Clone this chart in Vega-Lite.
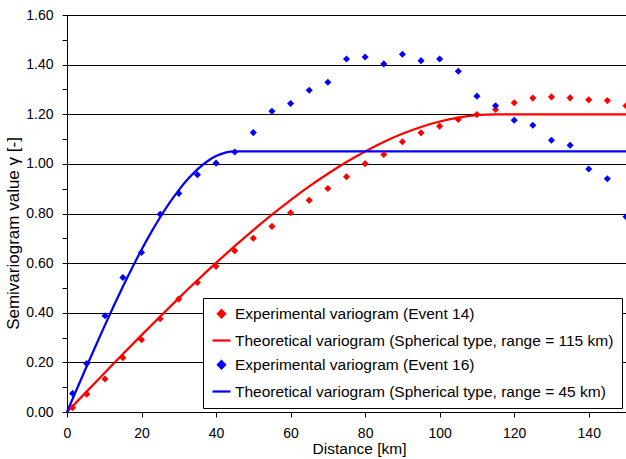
{
  "$schema": "https://vega.github.io/schema/vega-lite/v6.json",
  "width": 559,
  "height": 397,
  "autosize": {"type": "none"},
  "padding": {"left": 67, "top": 15, "right": 0, "bottom": 47},
  "background": "white",
  "config": {
    "view": {"stroke": null},
    "font": "Liberation Sans",
    "axis": {"domainColor": "black", "tickColor": "black", "labelColor": "black", "titleColor": "black", "titleFontWeight": "normal", "labelFont": "Liberation Sans", "titleFont": "Liberation Sans"},
    "legend": {
      "orient": "none", "legendX": 136, "legendY": 283, "title": null,
      "fillColor": "white", "strokeColor": "black", "padding": 8,
      "labelFont": "Liberation Sans", "labelFontSize": 15.5, "labelColor": "black",
      "labelLimit": 0, "symbolSize": 324, "rowPadding": 7, "labelOffset": 3,
      "symbolOpacity": 1, "symbolStrokeWidth": 2.25
    }
  },
  "datasets": {
    "exp": [
      {"series": "Experimental variogram (Event 14)", "d": 1.5, "g": 0.017},
      {"series": "Experimental variogram (Event 14)", "d": 5.3, "g": 0.072},
      {"series": "Experimental variogram (Event 14)", "d": 10.2, "g": 0.133},
      {"series": "Experimental variogram (Event 14)", "d": 15, "g": 0.219},
      {"series": "Experimental variogram (Event 14)", "d": 20, "g": 0.291},
      {"series": "Experimental variogram (Event 14)", "d": 25, "g": 0.376},
      {"series": "Experimental variogram (Event 14)", "d": 30, "g": 0.455},
      {"series": "Experimental variogram (Event 14)", "d": 35, "g": 0.522},
      {"series": "Experimental variogram (Event 14)", "d": 40, "g": 0.587},
      {"series": "Experimental variogram (Event 14)", "d": 45, "g": 0.650},
      {"series": "Experimental variogram (Event 14)", "d": 50, "g": 0.700},
      {"series": "Experimental variogram (Event 14)", "d": 55, "g": 0.748},
      {"series": "Experimental variogram (Event 14)", "d": 60, "g": 0.803},
      {"series": "Experimental variogram (Event 14)", "d": 65, "g": 0.853},
      {"series": "Experimental variogram (Event 14)", "d": 70, "g": 0.901},
      {"series": "Experimental variogram (Event 14)", "d": 75, "g": 0.948},
      {"series": "Experimental variogram (Event 14)", "d": 80, "g": 1.001},
      {"series": "Experimental variogram (Event 14)", "d": 85, "g": 1.038},
      {"series": "Experimental variogram (Event 14)", "d": 90, "g": 1.089},
      {"series": "Experimental variogram (Event 14)", "d": 95, "g": 1.125},
      {"series": "Experimental variogram (Event 14)", "d": 100, "g": 1.152},
      {"series": "Experimental variogram (Event 14)", "d": 105, "g": 1.179},
      {"series": "Experimental variogram (Event 14)", "d": 110, "g": 1.199},
      {"series": "Experimental variogram (Event 14)", "d": 115, "g": 1.219},
      {"series": "Experimental variogram (Event 14)", "d": 120, "g": 1.246},
      {"series": "Experimental variogram (Event 14)", "d": 125, "g": 1.265},
      {"series": "Experimental variogram (Event 14)", "d": 130, "g": 1.270},
      {"series": "Experimental variogram (Event 14)", "d": 135, "g": 1.266},
      {"series": "Experimental variogram (Event 14)", "d": 140, "g": 1.258},
      {"series": "Experimental variogram (Event 14)", "d": 145, "g": 1.255},
      {"series": "Experimental variogram (Event 14)", "d": 150, "g": 1.234},
      {"series": "Experimental variogram (Event 16)", "d": 1.5, "g": 0.075},
      {"series": "Experimental variogram (Event 16)", "d": 5.3, "g": 0.195},
      {"series": "Experimental variogram (Event 16)", "d": 10.2, "g": 0.388},
      {"series": "Experimental variogram (Event 16)", "d": 15, "g": 0.542},
      {"series": "Experimental variogram (Event 16)", "d": 20, "g": 0.643},
      {"series": "Experimental variogram (Event 16)", "d": 25, "g": 0.797},
      {"series": "Experimental variogram (Event 16)", "d": 30, "g": 0.881},
      {"series": "Experimental variogram (Event 16)", "d": 35, "g": 0.956},
      {"series": "Experimental variogram (Event 16)", "d": 40, "g": 1.003},
      {"series": "Experimental variogram (Event 16)", "d": 45, "g": 1.048},
      {"series": "Experimental variogram (Event 16)", "d": 50, "g": 1.126},
      {"series": "Experimental variogram (Event 16)", "d": 55, "g": 1.212},
      {"series": "Experimental variogram (Event 16)", "d": 60, "g": 1.243},
      {"series": "Experimental variogram (Event 16)", "d": 65, "g": 1.297},
      {"series": "Experimental variogram (Event 16)", "d": 70, "g": 1.329},
      {"series": "Experimental variogram (Event 16)", "d": 75, "g": 1.423},
      {"series": "Experimental variogram (Event 16)", "d": 80, "g": 1.431},
      {"series": "Experimental variogram (Event 16)", "d": 85, "g": 1.403},
      {"series": "Experimental variogram (Event 16)", "d": 90, "g": 1.442},
      {"series": "Experimental variogram (Event 16)", "d": 95, "g": 1.416},
      {"series": "Experimental variogram (Event 16)", "d": 100, "g": 1.423},
      {"series": "Experimental variogram (Event 16)", "d": 105, "g": 1.373},
      {"series": "Experimental variogram (Event 16)", "d": 110, "g": 1.273},
      {"series": "Experimental variogram (Event 16)", "d": 115, "g": 1.234},
      {"series": "Experimental variogram (Event 16)", "d": 120, "g": 1.176},
      {"series": "Experimental variogram (Event 16)", "d": 125, "g": 1.156},
      {"series": "Experimental variogram (Event 16)", "d": 130, "g": 1.095},
      {"series": "Experimental variogram (Event 16)", "d": 135, "g": 1.075},
      {"series": "Experimental variogram (Event 16)", "d": 140, "g": 0.979},
      {"series": "Experimental variogram (Event 16)", "d": 145, "g": 0.940},
      {"series": "Experimental variogram (Event 16)", "d": 150, "g": 0.787}
    ],
    "theo": [
      {"series": "Theoretical variogram (Spherical type, range = 115 km)", "d": 0, "g": 0},
      {"series": "Theoretical variogram (Spherical type, range = 115 km)", "d": 5, "g": 0.0782},
      {"series": "Theoretical variogram (Spherical type, range = 115 km)", "d": 10, "g": 0.1561},
      {"series": "Theoretical variogram (Spherical type, range = 115 km)", "d": 15, "g": 0.2335},
      {"series": "Theoretical variogram (Spherical type, range = 115 km)", "d": 20, "g": 0.3099},
      {"series": "Theoretical variogram (Spherical type, range = 115 km)", "d": 25, "g": 0.3851},
      {"series": "Theoretical variogram (Spherical type, range = 115 km)", "d": 30, "g": 0.4589},
      {"series": "Theoretical variogram (Spherical type, range = 115 km)", "d": 35, "g": 0.5309},
      {"series": "Theoretical variogram (Spherical type, range = 115 km)", "d": 40, "g": 0.6008},
      {"series": "Theoretical variogram (Spherical type, range = 115 km)", "d": 45, "g": 0.6684},
      {"series": "Theoretical variogram (Spherical type, range = 115 km)", "d": 50, "g": 0.7333},
      {"series": "Theoretical variogram (Spherical type, range = 115 km)", "d": 55, "g": 0.7952},
      {"series": "Theoretical variogram (Spherical type, range = 115 km)", "d": 60, "g": 0.8539},
      {"series": "Theoretical variogram (Spherical type, range = 115 km)", "d": 65, "g": 0.9090},
      {"series": "Theoretical variogram (Spherical type, range = 115 km)", "d": 70, "g": 0.9603},
      {"series": "Theoretical variogram (Spherical type, range = 115 km)", "d": 75, "g": 1.0075},
      {"series": "Theoretical variogram (Spherical type, range = 115 km)", "d": 80, "g": 1.0502},
      {"series": "Theoretical variogram (Spherical type, range = 115 km)", "d": 85, "g": 1.0882},
      {"series": "Theoretical variogram (Spherical type, range = 115 km)", "d": 90, "g": 1.1211},
      {"series": "Theoretical variogram (Spherical type, range = 115 km)", "d": 95, "g": 1.1487},
      {"series": "Theoretical variogram (Spherical type, range = 115 km)", "d": 100, "g": 1.1707},
      {"series": "Theoretical variogram (Spherical type, range = 115 km)", "d": 105, "g": 1.1868},
      {"series": "Theoretical variogram (Spherical type, range = 115 km)", "d": 110, "g": 1.1966},
      {"series": "Theoretical variogram (Spherical type, range = 115 km)", "d": 115, "g": 1.2},
      {"series": "Theoretical variogram (Spherical type, range = 115 km)", "d": 150, "g": 1.2},
      {"series": "Theoretical variogram (Spherical type, range = 45 km)", "d": 0, "g": 0},
      {"series": "Theoretical variogram (Spherical type, range = 45 km)", "d": 2.5, "g": 0.0874},
      {"series": "Theoretical variogram (Spherical type, range = 45 km)", "d": 5, "g": 0.1743},
      {"series": "Theoretical variogram (Spherical type, range = 45 km)", "d": 7.5, "g": 0.2601},
      {"series": "Theoretical variogram (Spherical type, range = 45 km)", "d": 10, "g": 0.3442},
      {"series": "Theoretical variogram (Spherical type, range = 45 km)", "d": 12.5, "g": 0.4262},
      {"series": "Theoretical variogram (Spherical type, range = 45 km)", "d": 15, "g": 0.5056},
      {"series": "Theoretical variogram (Spherical type, range = 45 km)", "d": 17.5, "g": 0.5816},
      {"series": "Theoretical variogram (Spherical type, range = 45 km)", "d": 20, "g": 0.6539},
      {"series": "Theoretical variogram (Spherical type, range = 45 km)", "d": 22.5, "g": 0.7219},
      {"series": "Theoretical variogram (Spherical type, range = 45 km)", "d": 25, "g": 0.7850},
      {"series": "Theoretical variogram (Spherical type, range = 45 km)", "d": 27.5, "g": 0.8427},
      {"series": "Theoretical variogram (Spherical type, range = 45 km)", "d": 30, "g": 0.8944},
      {"series": "Theoretical variogram (Spherical type, range = 45 km)", "d": 32.5, "g": 0.9397},
      {"series": "Theoretical variogram (Spherical type, range = 45 km)", "d": 35, "g": 0.9780},
      {"series": "Theoretical variogram (Spherical type, range = 45 km)", "d": 37.5, "g": 1.0087},
      {"series": "Theoretical variogram (Spherical type, range = 45 km)", "d": 40, "g": 1.0313},
      {"series": "Theoretical variogram (Spherical type, range = 45 km)", "d": 42.5, "g": 1.0452},
      {"series": "Theoretical variogram (Spherical type, range = 45 km)", "d": 45, "g": 1.05},
      {"series": "Theoretical variogram (Spherical type, range = 45 km)", "d": 150, "g": 1.05}
    ]
  },
  "encoding": {
    "x": {
      "field": "d", "type": "quantitative",
      "scale": {"domain": [0, 150], "nice": false, "zero": false},
      "axis": {
        "title": "Distance [km]", "titleFontSize": 15.5, "titlePadding": 1, "titleX": 292,
        "values": [0, 20, 40, 60, 80, 100, 120, 140],
        "labelFontSize": 14, "labelPadding": 9, "tickSize": 5, "grid": false,
        "labelFlush": false, "labelOverlap": false, "format": "d"
      }
    },
    "y": {
      "field": "g", "type": "quantitative",
      "scale": {"domain": [0, 1.6], "nice": false, "zero": false},
      "axis": {
        "title": "Semivariogram value γ [-]", "titleFontSize": 17, "titlePadding": 3, "titleY": 218,
        "values": [0, 0.1, 0.2, 0.3, 0.4, 0.5, 0.6, 0.7, 0.8, 0.9, 1.0, 1.1, 1.2, 1.3, 1.4, 1.5, 1.6],
        "labelExpr": "round(datum.value*10)%2==0 ? format(datum.value, '.2f') : ''",
        "labelFontSize": 14, "labelPadding": 9, "tickSize": 5,
        "labelFlush": false, "labelOverlap": false,
        "grid": true, "gridColor": "black", "gridWidth": 1,
        "gridOpacity": {"condition": {"test": "round(datum.value*10)%2==1", "value": 0}, "value": 1}
      }
    },
    "color": {
      "field": "series", "type": "nominal",
      "scale": {
        "domain": ["Experimental variogram (Event 14)", "Theoretical variogram (Spherical type, range = 115 km)", "Experimental variogram (Event 16)", "Theoretical variogram (Spherical type, range = 45 km)"],
        "range": ["#FF0000", "#FF0000", "#0000FF", "#0000FF"]
      }
    }
  },
  "layer": [
    {
      "data": {"name": "theo"},
      "mark": {"type": "line", "strokeWidth": 2.25, "interpolate": "monotone"}
    },
    {
      "data": {"name": "exp"},
      "mark": {"type": "point", "filled": true, "opacity": 1, "strokeWidth": 0},
      "encoding": {
        "shape": {
          "field": "series", "type": "nominal",
          "scale": {
            "domain": ["Experimental variogram (Event 14)", "Theoretical variogram (Spherical type, range = 115 km)", "Experimental variogram (Event 16)", "Theoretical variogram (Spherical type, range = 45 km)"],
            "range": ["diamond", "stroke", "diamond", "stroke"]
          }
        },
        "size": {
          "field": "series", "type": "nominal",
          "scale": {
            "type": "ordinal",
            "domain": ["Experimental variogram (Event 14)", "Theoretical variogram (Spherical type, range = 115 km)", "Experimental variogram (Event 16)", "Theoretical variogram (Spherical type, range = 45 km)"],
            "range": [50, 324, 50, 324]
          }
        }
      }
    }
  ]
}
